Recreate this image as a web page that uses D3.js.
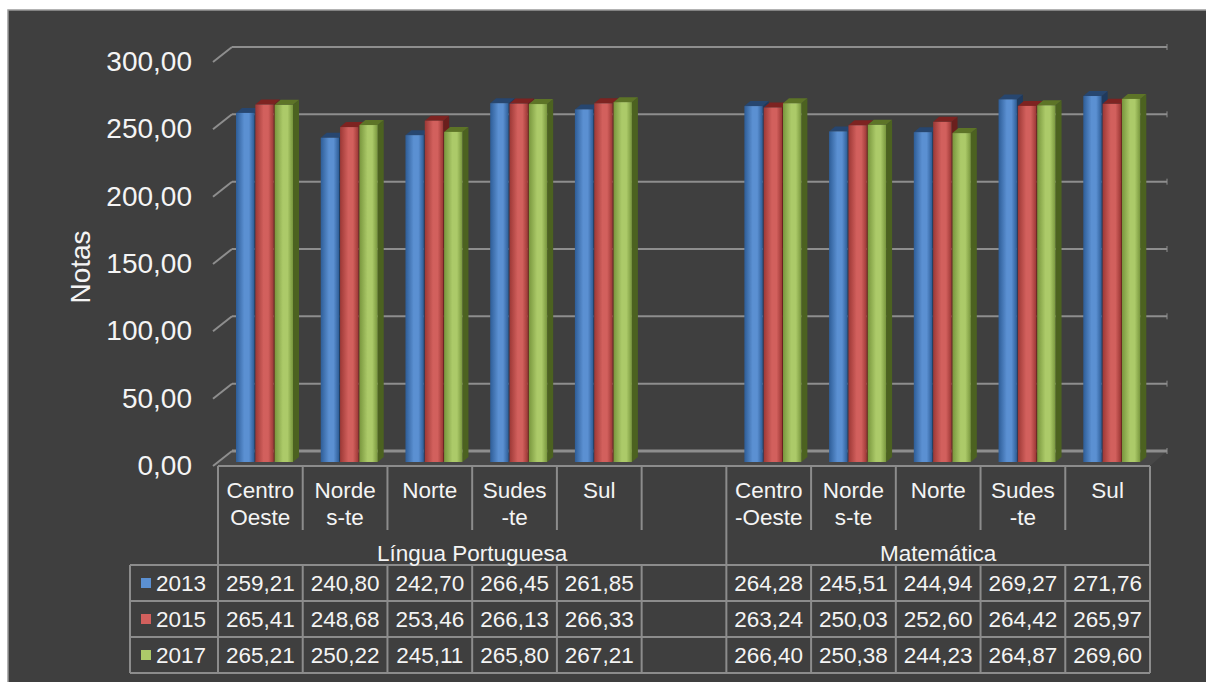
<!DOCTYPE html>
<html>
<head>
<meta charset="utf-8">
<script src="https://cdn.jsdelivr.net/npm/d3@7"></script>
<style>
  html, body { margin: 0; padding: 0; background: #ffffff; }
  text { font-family: "Liberation Sans", Arial, sans-serif; fill: #f4f4f4; }
</style>
</head>
<body>
<div id="chart"></div>
<script>
// data
var years = ["2013", "2015", "2017"];
var subjects = ["Língua Portuguesa", "Matemática"];
var catsLP = [["Centro", "Oeste"], ["Norde", "s-te"], ["Norte"], ["Sudes", "-te"], ["Sul"], []];
var catsMat = [["Centro", "-Oeste"], ["Norde", "s-te"], ["Norte"], ["Sudes", "-te"], ["Sul"]];
var lp2013 = [259.21, 240.80, 242.70, 266.45, 261.85];
var lp2015 = [265.41, 248.68, 253.46, 266.13, 266.33];
var lp2017 = [265.21, 250.22, 245.11, 265.80, 267.21];
var mat2013 = [264.28, 245.51, 244.94, 269.27, 271.76];
var mat2015 = [263.24, 250.03, 252.60, 264.42, 265.97];
var mat2017 = [266.40, 250.38, 244.23, 264.87, 269.60];
var yTicks = [0, 50, 100, 150, 200, 250, 300];

var colors = {
    "2013": {lo: "#2e5d97", mid: "#5b90d2", top: "#27466f", side: "#1f3a5e"},
    "2015": {lo: "#9c3835", mid: "#d2605d", top: "#7d2321", side: "#6a1f1d"},
    "2017": {lo: "#78963d", mid: "#acca69", top: "#5d7427", side: "#4c6220"}
};

var width = 1206, height = 682;
var depthX = 19, depthY = -15;   // 3d wall depth
var barDX = 6, barDY = -5;       // bar depth

var ptBR = d3.formatLocale({decimal: ",", thousands: ".", grouping: [3], currency: ["R$", ""]});
var fmt = ptBR.format(".2f");

// one column per category, the empty one belongs to LP
var columns = [];
catsLP.forEach(function(c, i){
    columns.push({key: "lp" + i, subject: 0, lines: c, values: i < 5 ? [lp2013[i], lp2015[i], lp2017[i]] : null});
});
catsMat.forEach(function(c, i){
    columns.push({key: "mat" + i, subject: 1, lines: c, values: [mat2013[i], mat2015[i], mat2017[i]]});
});

var svg = d3.select("#chart").append("svg")
    .attr("width", width)
    .attr("height", height);

var defs = svg.append("defs");
years.forEach(function(y){
    var g = defs.append("linearGradient").attr("id", "grad" + y)
        .attr("x1", "0%").attr("x2", "100%").attr("y1", "0%").attr("y2", "0%");
    g.append("stop").attr("offset", "0%").attr("stop-color", colors[y].lo);
    g.append("stop").attr("offset", "45%").attr("stop-color", colors[y].mid);
    g.append("stop").attr("offset", "70%").attr("stop-color", colors[y].mid);
    g.append("stop").attr("offset", "100%").attr("stop-color", colors[y].lo);
});

svg.append("rect")
    .attr("x", 8).attr("y", 10)
    .attr("width", width).attr("height", height)
    .attr("fill", "#3f3f3f")
    .attr("stroke", "#9a9a9a")
    .attr("stroke-width", 1.5);

var x = d3.scaleBand()
    .domain(columns.map(function(d){ return d.key; }))
    .range([218, 1150]);

var y = d3.scaleLinear().domain([0, 300]).range([466, 62]);
var yBar = d3.scaleLinear().domain([0, 300]).range([462, 58]);
var xSeries = d3.scaleBand().domain(years).range([18, 75]).paddingInner(0.05);

var grid = "#8e8e8e";

// floor
var floorY = y(0);
svg.append("path")
    .attr("d", d3.line()([[213, floorY], [x.range()[1], floorY],
        [x.range()[1] + depthX - 2, floorY + depthY], [213 + depthX, floorY + depthY]]) + "Z")
    .attr("fill", "#474747");

// back wall gridlines + side wall ticks
svg.selectAll(".grid").data(yTicks).enter().append("line")
    .attr("class", "grid")
    .attr("x1", 213 + depthX).attr("x2", x.range()[1] + depthX - 2)
    .attr("y1", function(d){ return y(d) + depthY; })
    .attr("y2", function(d){ return y(d) + depthY; })
    .attr("stroke", grid)
    .attr("stroke-width", function(d){ return d === 0 ? 3 : 2; });

svg.selectAll(".wall").data(yTicks).enter().append("line")
    .attr("class", "wall")
    .attr("x1", 213).attr("x2", 213 + depthX)
    .attr("y1", function(d){ return y(d); })
    .attr("y2", function(d){ return y(d) + depthY; })
    .attr("stroke", grid)
    .attr("stroke-width", 2);

svg.selectAll(".endtick").data(yTicks).enter().append("line")
    .attr("class", "endtick")
    .attr("x1", x.range()[1] + depthX - 2).attr("x2", x.range()[1] + depthX - 2)
    .attr("y1", function(d){ return y(d) + depthY - 3; })
    .attr("y2", function(d){ return y(d) + depthY + 3; })
    .attr("stroke", grid)
    .attr("stroke-width", 1);

// y labels
svg.selectAll(".ylab").data(yTicks).enter().append("text")
    .attr("class", "ylab")
    .attr("x", 192)
    .attr("y", function(d){ return y(d) + 9; })
    .attr("text-anchor", "end")
    .style("font-size", "28px")
    .text(function(d){ return fmt(d); });

svg.append("text")
    .attr("transform", "translate(90,267) rotate(-90)")
    .attr("text-anchor", "middle")
    .style("font-size", "28px")
    .text("Notas");

// bars
var bars = [];
columns.forEach(function(c){
    if (!c.values) return;
    c.values.forEach(function(v, j){
        bars.push({key: c.key, year: years[j], value: v});
    });
});

var barG = svg.selectAll(".bar").data(bars).enter().append("g").attr("class", "bar");
var bw = xSeries.bandwidth();

barG.append("path")
    .attr("d", function(d){
        var x0 = x(d.key) + xSeries(d.year) + bw, y0 = yBar(d.value), y1 = yBar(0);
        return d3.line()([[x0, y1], [x0, y0], [x0 + barDX, y0 + barDY], [x0 + barDX, y1 + barDY]]) + "Z";
    })
    .attr("fill", function(d){ return colors[d.year].side; });

barG.append("path")
    .attr("d", function(d){
        var x0 = x(d.key) + xSeries(d.year), y0 = yBar(d.value);
        return d3.line()([[x0, y0], [x0 + bw, y0], [x0 + bw + barDX, y0 + barDY], [x0 + barDX, y0 + barDY]]) + "Z";
    })
    .attr("fill", function(d){ return colors[d.year].top; });

barG.append("rect")
    .attr("x", function(d){ return x(d.key) + xSeries(d.year); })
    .attr("y", function(d){ return yBar(d.value); })
    .attr("width", bw)
    .attr("height", function(d){ return yBar(0) - yBar(d.value); })
    .attr("fill", function(d){ return "url(#grad" + d.year + ")"; });

// data table
var headTop = 466, catBottom = 530;
var rows = d3.scaleBand().domain(years).range([565, 673]);
var left = x.range()[0], right = x.range()[1];
var lineCol = "#8c8c8c";
var table = svg.append("g");

table.append("line").attr("x1", left).attr("x2", right)
    .attr("y1", headTop).attr("y2", headTop)
    .attr("stroke", lineCol).attr("stroke-width", 2);

table.selectAll(".hrow").data(years.concat(["end"])).enter().append("line")
    .attr("x1", 130).attr("x2", right)
    .attr("y1", function(d){ return d === "end" ? rows.range()[1] : rows(d); })
    .attr("y2", function(d){ return d === "end" ? rows.range()[1] : rows(d); })
    .attr("stroke", lineCol).attr("stroke-width", 2);

// vertical separators
var edges = columns.map(function(d){ return x(d.key); }).concat([right]);
table.selectAll(".vcat").data(edges).enter().append("line")
    .attr("x1", function(d){ return d; }).attr("x2", function(d){ return d; })
    .attr("y1", headTop).attr("y2", catBottom)
    .attr("stroke", lineCol).attr("stroke-width", 2);

table.selectAll(".vrow").data(edges).enter().append("line")
    .attr("x1", function(d){ return d; }).attr("x2", function(d){ return d; })
    .attr("y1", rows.range()[0]).attr("y2", rows.range()[1])
    .attr("stroke", lineCol).attr("stroke-width", 2);

var groupEdges = [left, x("mat0"), right];
table.selectAll(".vgrp").data(groupEdges).enter().append("line")
    .attr("x1", function(d){ return d; }).attr("x2", function(d){ return d; })
    .attr("y1", catBottom).attr("y2", rows.range()[0])
    .attr("stroke", lineCol).attr("stroke-width", 2);

table.append("line").attr("x1", 130).attr("x2", 130)
    .attr("y1", rows.range()[0]).attr("y2", rows.range()[1])
    .attr("stroke", lineCol).attr("stroke-width", 2);

// category labels
var cx = function(key){ return x(key) + x.bandwidth() / 2; };
columns.forEach(function(c){
    c.lines.forEach(function(t, k){
        table.append("text")
            .attr("x", cx(c.key))
            .attr("y", 498 + k * 27)
            .attr("text-anchor", "middle")
            .style("font-size", "22.5px")
            .text(t);
    });
});

// subject labels
subjects.forEach(function(s, i){
    var cs = columns.filter(function(c){ return c.subject === i; });
    var x0 = x(cs[0].key), x1 = x(cs[cs.length - 1].key) + x.bandwidth();
    table.append("text")
        .attr("x", (x0 + x1) / 2)
        .attr("y", 561)
        .attr("text-anchor", "middle")
        .style("font-size", "22.5px")
        .text(s);
});

// legend keys and values
years.forEach(function(yr, j){
    var cy = rows(yr) + rows.bandwidth() / 2;
    table.append("rect")
        .attr("x", 141).attr("y", cy - 5)
        .attr("width", 10).attr("height", 10)
        .attr("fill", colors[yr].mid);
    table.append("text")
        .attr("x", 156).attr("y", cy + 8)
        .style("font-size", "22.5px")
        .text(yr);
    columns.forEach(function(c){
        if (!c.values) return;
        table.append("text")
            .attr("x", cx(c.key))
            .attr("y", cy + 8)
            .attr("text-anchor", "middle")
            .style("font-size", "22.5px")
            .text(fmt(c.values[j]));
    });
});
</script>
</body>
</html>
